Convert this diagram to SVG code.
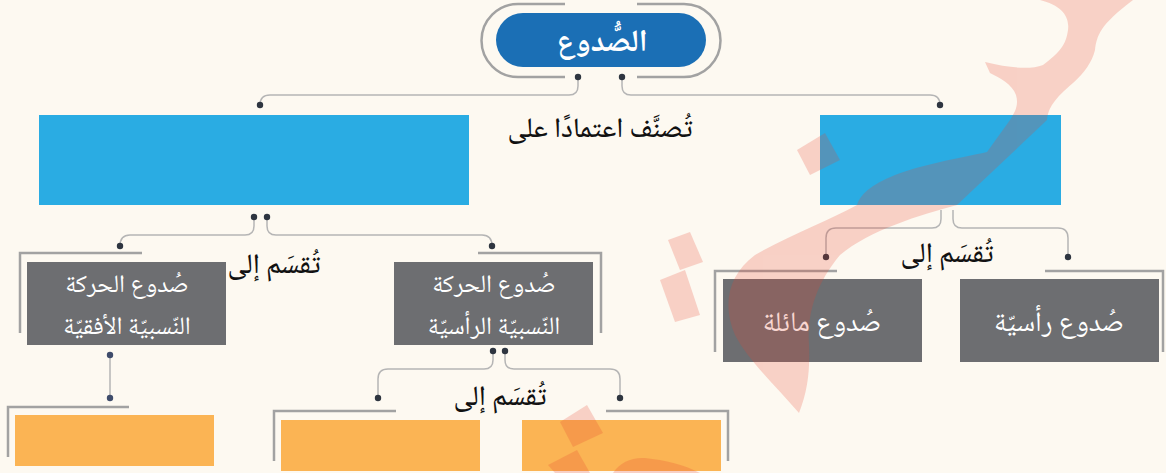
<svg xmlns="http://www.w3.org/2000/svg" width="1166" height="473" viewBox="0 0 1166 473">
<defs>
<style>
.bg{fill:#fdf9f1}
.conn{fill:none;stroke:#b5b5b5;stroke-width:1.5}
.dot{fill:#2e3540}
.dotb{fill:#3f4c6b}
.brk{fill:none;stroke:#a2a2a2;stroke-width:2.5}
.blue{fill:#2aace3}
.gray{fill:#6d6e71}
.orange{fill:#fbb454}
.t{font-family:"Noto Naskh Arabic","Noto Sans Arabic","DejaVu Sans",sans-serif;text-anchor:middle;direction:rtl}
.tw{fill:#ffffff;font-size:28px}
.tw2{fill:#ffffff;font-size:25px}
.tb{fill:#111111;font-size:28px;font-weight:500}
</style>
</defs>
<rect class="bg" x="0" y="0" width="1166" height="473"/>

<g id="connectors">
<path class="conn" d="M578,77 V86 Q578,95 569,95 H270 Q260,95 260,105"/>
<path class="conn" d="M622,77 V86 Q622,95 631,95 H930 Q940,95 940,105"/>
<path class="conn" d="M254,217 V226 Q254,235 245,235 H130 Q120,235 120,246"/>
<path class="conn" d="M267,217 V226 Q267,235 276,235 H482 Q492,235 492,246"/>
<path class="conn" d="M941,210 V219 Q941,228 932,228 H836 Q826,228 826,238 V257"/>
<path class="conn" d="M953,210 V219 Q953,228 962,228 H1058 Q1068,228 1068,238 V257"/>
<path class="conn" d="M110,355 V398"/>
<path class="conn" d="M493,351 V360 Q493,369 484,369 H388 Q378,369 378,379 V398"/>
<path class="conn" d="M505,351 V360 Q505,369 514,369 H610 Q620,369 620,379 V398"/>
<circle class="dot" cx="578" cy="77" r="3.2"/>
<circle class="dot" cx="622" cy="77" r="3.2"/>
<circle class="dot" cx="260" cy="105" r="3.2"/>
<circle class="dot" cx="940" cy="105" r="3.2"/>
<circle class="dot" cx="254" cy="217" r="3.2"/>
<circle class="dot" cx="267" cy="217" r="3.2"/>
<circle class="dot" cx="120" cy="246" r="3.2"/>
<circle class="dot" cx="492" cy="246" r="3.2"/>
<circle class="dot" cx="826" cy="257" r="3.2"/>
<circle class="dot" cx="1068" cy="257" r="3.2"/>
<circle class="dotb" cx="110" cy="355" r="3.2"/>
<circle class="dotb" cx="110" cy="398" r="3.2"/>
<circle class="dot" cx="493" cy="351" r="3.2"/>
<circle class="dot" cx="505" cy="351" r="3.2"/>
<circle class="dot" cx="378" cy="398" r="3.2"/>
<circle class="dot" cx="620" cy="398" r="3.2"/>
</g>

<g id="node-root">
<path class="brk" d="M565,4 H518 A36.5,36.5 0 0 0 518,77 H565"/>
<path class="brk" d="M637,4 H684 A36.5,36.5 0 0 1 684,77 H637"/>
<rect x="496" y="13" width="210" height="54" rx="27" fill="#1b6fb5"/>
<text class="t" x="602" y="51" fill="#ffffff" font-size="31" font-weight="bold">الصُّدوع</text>
</g>

<g id="label-classify">
<text class="t tb" x="600" y="137">تُصنَّف اعتمادًا على</text>
</g>

<g id="node-blue-left"><rect class="blue" x="39" y="115" width="430" height="90"/></g>
<g id="node-blue-right"><rect class="blue" x="820" y="115" width="241" height="90"/></g>

<g id="label-divide-1"><text class="t tb" x="274" y="273">تُقسَم إلى</text></g>
<g id="label-divide-2"><text class="t tb" x="947" y="262">تُقسَم إلى</text></g>
<g id="label-divide-3"><text class="t tb" x="500" y="405">تُقسَم إلى</text></g>

<g id="node-horizontal">
<path class="brk" d="M142,253 H20 V333"/>
<rect class="gray" x="27" y="262" width="199" height="83"/>
<text class="t tw2" x="127" y="292"><tspan x="127" y="292">صُدوع الحركة</tspan><tspan x="127" y="334">النّسبيّة الأفقيّة</tspan></text>
</g>

<g id="node-vertical">
<path class="brk" d="M478,253 H601 V333"/>
<rect class="gray" x="394" y="262" width="199" height="83"/>
<text class="t tw2" x="494" y="292"><tspan x="494" y="292">صُدوع الحركة</tspan><tspan x="494" y="334">النّسبيّة الرأسيّة</tspan></text>
</g>

<g id="node-inclined">
<path class="brk" d="M837,271 H715 V352"/>
<rect class="gray" x="723" y="279" width="199" height="83"/>
<text class="t tw" x="822" y="331">صُدوع مائلة</text>
</g>

<g id="node-vertical-faults">
<path class="brk" d="M1045,271 H1163 V352"/>
<rect class="gray" x="960" y="279" width="199" height="83"/>
<text class="t tw" x="1059" y="331">صُدوع رأسيّة</text>
</g>

<g id="node-orange-1">
<path class="brk" d="M129,407 H8 V457"/>
<rect class="orange" x="15" y="415" width="199" height="51"/>
</g>
<g id="node-orange-2">
<path class="brk" d="M396,411 H274 V461"/>
<rect class="orange" x="281" y="420" width="199" height="51"/>
</g>
<g id="node-orange-3">
<path class="brk" d="M606,411 H728 V461"/>
<rect class="orange" x="522" y="420" width="199" height="51"/>
</g>

<g id="watermark" fill="#e8432f" opacity="0.22">
<path d="M1040,0 C1060,5 1070,15 1068,30 C1066,45 1060,52 1043,65 C1030,70 1010,68 985,62 L990,73 C1000,78 1012,84 1016,95 C1019,105 1015,112 1010,120 L987,152 C960,158 920,165 895,175 C870,185 860,195 857,205 C830,220 790,235 755,255 C728,275 722,305 735,335 C748,360 775,385 799,413 C808,390 810,370 809,345 C807,315 815,285 840,255 C870,230 920,215 957,205 L1047,120 C1048,108 1055,98 1073,83 C1085,72 1092,62 1095,50 C1097,35 1100,25 1133,0 Z"/>
<polygon points="797,150 825,133 840,160 810,175"/>
<polygon points="668,240 690,232 703,262 680,270"/>
<polygon points="660,280 685,270 700,315 675,322"/>
<polygon points="560,422 587,405 603,433 573,447"/>
<polygon points="548,465 577,450 590,473 555,473"/>
<path d="M613,473 C620,462 632,457 645,458 C665,460 685,465 700,473 Z"/>
</g>
</svg>
